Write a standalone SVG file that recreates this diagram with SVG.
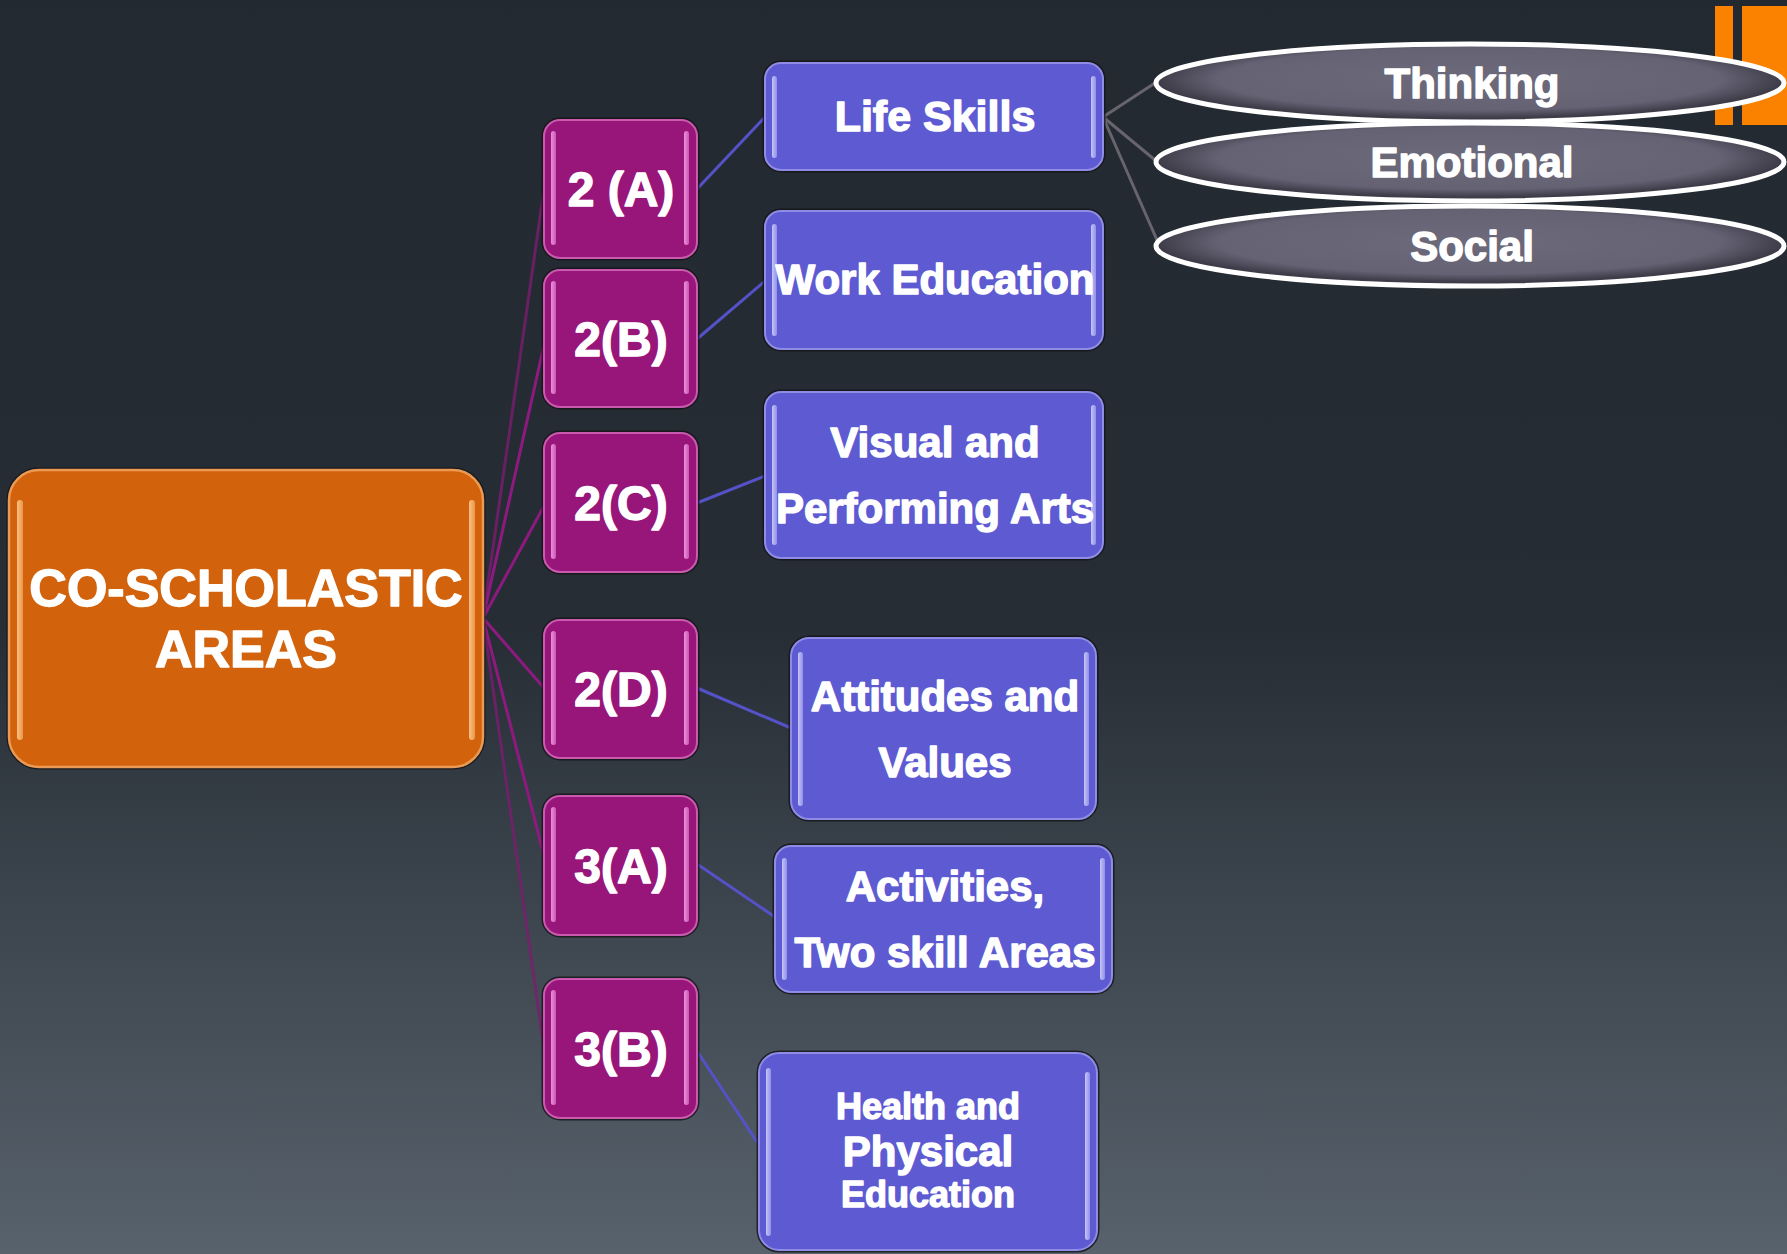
<svg xmlns="http://www.w3.org/2000/svg" width="1787" height="1254" viewBox="0 0 1787 1254">
<defs>
<linearGradient id="bg" x1="0" y1="0" x2="0" y2="1">
<stop offset="0" stop-color="#232930"/>
<stop offset="0.5" stop-color="#262d35"/>
<stop offset="1" stop-color="#58626c"/>
</linearGradient>
<radialGradient id="ell" cx="0.5" cy="0.45" r="0.5">
<stop offset="0" stop-color="#6d6a7c"/>
<stop offset="0.8" stop-color="#656274"/>
<stop offset="1" stop-color="#3e3c48"/>
</radialGradient>
<linearGradient id="hlP" x1="0" y1="0" x2="1" y2="0">
<stop offset="0" stop-color="#f7a8ec"/>
<stop offset="1" stop-color="#d860c0"/>
</linearGradient>
<linearGradient id="hlB" x1="0" y1="0" x2="1" y2="0">
<stop offset="0" stop-color="#d8d8ff"/>
<stop offset="1" stop-color="#9a98ee"/>
</linearGradient>
<linearGradient id="hlO" x1="0" y1="0" x2="1" y2="0">
<stop offset="0" stop-color="#ffd09a"/>
<stop offset="1" stop-color="#f0a050"/>
</linearGradient>
</defs>
<style>
.t{font-family:"Liberation Sans",Arial,sans-serif;font-weight:bold;fill:#fff;text-anchor:middle;stroke:#fff;stroke-width:1.4;stroke-linejoin:round;}
.shadow{fill:none;stroke:#141418;stroke-width:5;opacity:0.8;}
.pbox{fill:#98157a;stroke:#c95aae;stroke-width:2;}
.bbox{fill:#5e5bd2;stroke:#8f8ce6;stroke-width:2;}
.obox{fill:#d2620b;stroke:#eb9a55;stroke-width:2.5;}
.hp{fill:url(#hlP);opacity:0.85;}
.hb{fill:url(#hlB);opacity:0.85;}
.ho{fill:url(#hlO);opacity:0.85;}
.ellipse{fill:url(#ell);stroke:#ffffff;stroke-width:5;}
.cp{stroke:#8e1a80;stroke-width:3;fill:none;}
.cpf{stroke:#7a1d70;stroke-width:3;fill:none;opacity:0.8;}
.cb{stroke:#5552c8;stroke-width:3;fill:none;}
.cg{stroke:#67636f;stroke-width:3;fill:none;}
</style>
<rect x="0" y="0" width="1787" height="1254" fill="url(#bg)"/>
<g id="decor">
<rect x="1715" y="6" width="18" height="119" fill="#fb8200"/>
<rect x="1742" y="6" width="45" height="119" fill="#fb8200"/>
</g>
<g id="connectors">
<line class="cpf" x1="483" y1="618" x2="544" y2="189"/>
<line class="cp" x1="483" y1="618" x2="544" y2="345"/>
<line class="cp" x1="483" y1="618" x2="544" y2="506"/>
<line class="cp" x1="483" y1="618" x2="544" y2="688"/>
<line class="cp" x1="483" y1="618" x2="544" y2="856"/>
<line class="cpf" x1="483" y1="618" x2="544" y2="1048"/>
<line class="cb" x1="697" y1="189" x2="765" y2="117"/>
<line class="cb" x1="697" y1="339" x2="765" y2="281"/>
<line class="cb" x1="697" y1="503" x2="765" y2="476"/>
<line class="cb" x1="697" y1="688" x2="791" y2="728"/>
<line class="cb" x1="697" y1="864" x2="775" y2="917"/>
<line class="cb" x1="697" y1="1051" x2="759" y2="1145"/>
<line class="cg" x1="1103" y1="117" x2="1155" y2="83"/>
<line class="cg" x1="1103" y1="117" x2="1155" y2="160"/>
<line class="cg" x1="1103" y1="117" x2="1157" y2="240"/>
</g>
<g id="node-central">
<rect class="shadow" x="9" y="470" width="474" height="297" rx="30"/>
<rect class="obox" x="9" y="470" width="474" height="297" rx="30"/>
<rect class="ho" x="17" y="500" width="6" height="240" rx="3"/>
<rect class="ho" x="469" y="500" width="6" height="240" rx="3"/>
<text class="t" x="246" y="606" font-size="52">CO-SCHOLASTIC</text>
<text class="t" x="246" y="667" font-size="52">AREAS</text>
</g>
<g id="node-2a">
<rect class="shadow" x="544" y="120" width="153" height="138" rx="16"/>
<rect class="pbox" x="544" y="120" width="153" height="138" rx="16"/>
<rect class="hp" x="551" y="131" width="5" height="114" rx="2.5"/>
<rect class="hp" x="684" y="131" width="5" height="114" rx="2.5"/>
<text class="t" x="621" y="206" font-size="48">2 (A)</text>
</g>
<g id="node-2b">
<rect class="shadow" x="544" y="270" width="153" height="137" rx="16"/>
<rect class="pbox" x="544" y="270" width="153" height="137" rx="16"/>
<rect class="hp" x="551" y="281" width="5" height="113" rx="2.5"/>
<rect class="hp" x="684" y="281" width="5" height="113" rx="2.5"/>
<text class="t" x="621" y="356" font-size="48">2(B)</text>
</g>
<g id="node-2c">
<rect class="shadow" x="544" y="433" width="153" height="139" rx="16"/>
<rect class="pbox" x="544" y="433" width="153" height="139" rx="16"/>
<rect class="hp" x="551" y="444" width="5" height="115" rx="2.5"/>
<rect class="hp" x="684" y="444" width="5" height="115" rx="2.5"/>
<text class="t" x="621" y="520" font-size="48">2(C)</text>
</g>
<g id="node-2d">
<rect class="shadow" x="544" y="620" width="153" height="138" rx="16"/>
<rect class="pbox" x="544" y="620" width="153" height="138" rx="16"/>
<rect class="hp" x="551" y="631" width="5" height="114" rx="2.5"/>
<rect class="hp" x="684" y="631" width="5" height="114" rx="2.5"/>
<text class="t" x="621" y="706" font-size="48">2(D)</text>
</g>
<g id="node-3a">
<rect class="shadow" x="544" y="796" width="153" height="139" rx="16"/>
<rect class="pbox" x="544" y="796" width="153" height="139" rx="16"/>
<rect class="hp" x="551" y="807" width="5" height="115" rx="2.5"/>
<rect class="hp" x="684" y="807" width="5" height="115" rx="2.5"/>
<text class="t" x="621" y="883" font-size="48">3(A)</text>
</g>
<g id="node-3b">
<rect class="shadow" x="544" y="979" width="153" height="139" rx="16"/>
<rect class="pbox" x="544" y="979" width="153" height="139" rx="16"/>
<rect class="hp" x="551" y="990" width="5" height="115" rx="2.5"/>
<rect class="hp" x="684" y="990" width="5" height="115" rx="2.5"/>
<text class="t" x="621" y="1066" font-size="48">3(B)</text>
</g>
<g id="node-life-skills">
<rect class="shadow" x="765" y="63" width="338" height="107" rx="16"/>
<rect class="bbox" x="765" y="63" width="338" height="107" rx="16"/>
<rect class="hb" x="772" y="76" width="5" height="82" rx="2.5"/>
<rect class="hb" x="1091" y="76" width="5" height="82" rx="2.5"/>
<text class="t" x="935" y="131" font-size="43">Life Skills</text>
</g>
<g id="node-work-education">
<rect class="shadow" x="765" y="211" width="338" height="138" rx="16"/>
<rect class="bbox" x="765" y="211" width="338" height="138" rx="16"/>
<rect class="hb" x="772" y="224" width="5" height="112" rx="2.5"/>
<rect class="hb" x="1091" y="224" width="5" height="112" rx="2.5"/>
<text class="t" x="935" y="294" font-size="42">Work Education</text>
</g>
<g id="node-visual-arts">
<rect class="shadow" x="765" y="392" width="338" height="166" rx="16"/>
<rect class="bbox" x="765" y="392" width="338" height="166" rx="16"/>
<rect class="hb" x="772" y="405" width="5" height="140" rx="2.5"/>
<rect class="hb" x="1091" y="405" width="5" height="140" rx="2.5"/>
<text class="t" x="935" y="457" font-size="42">Visual and</text>
<text class="t" x="935" y="523" font-size="42">Performing Arts</text>
</g>
<g id="node-attitudes">
<rect class="shadow" x="791" y="638" width="305" height="181" rx="18"/>
<rect class="bbox" x="791" y="638" width="305" height="181" rx="18"/>
<rect class="hb" x="798" y="652" width="5" height="154" rx="2.5"/>
<rect class="hb" x="1084" y="652" width="5" height="154" rx="2.5"/>
<text class="t" x="945" y="711" font-size="42">Attitudes and</text>
<text class="t" x="945" y="777" font-size="42">Values</text>
</g>
<g id="node-activities">
<rect class="shadow" x="775" y="846" width="337" height="146" rx="16"/>
<rect class="bbox" x="775" y="846" width="337" height="146" rx="16"/>
<rect class="hb" x="782" y="858" width="5" height="122" rx="2.5"/>
<rect class="hb" x="1100" y="858" width="5" height="122" rx="2.5"/>
<text class="t" x="945" y="901" font-size="42">Activities,</text>
<text class="t" x="945" y="967" font-size="42">Two skill Areas</text>
</g>
<g id="node-health">
<rect class="shadow" x="759" y="1053" width="338" height="197" rx="20"/>
<rect class="bbox" x="759" y="1053" width="338" height="197" rx="20"/>
<rect class="hb" x="766" y="1068" width="5" height="168" rx="2.5"/>
<rect class="hb" x="1085" y="1072" width="5" height="168" rx="2.5"/>
<text class="t" x="928" y="1119" font-size="36">Health and</text>
<text class="t" x="928" y="1166" font-size="42">Physical</text>
<text class="t" x="928" y="1207" font-size="36">Education</text>
</g>
<g id="node-thinking">
<ellipse class="ellipse" cx="1470" cy="83" rx="314" ry="39"/>
<text class="t" x="1472" y="98" font-size="42">Thinking</text>
</g>
<g id="node-emotional">
<ellipse class="ellipse" cx="1470" cy="162" rx="314" ry="39"/>
<text class="t" x="1472" y="177" font-size="42">Emotional</text>
</g>
<g id="node-social">
<ellipse class="ellipse" cx="1470" cy="246" rx="314" ry="40"/>
<text class="t" x="1472" y="261" font-size="42">Social</text>
</g>
</svg>
